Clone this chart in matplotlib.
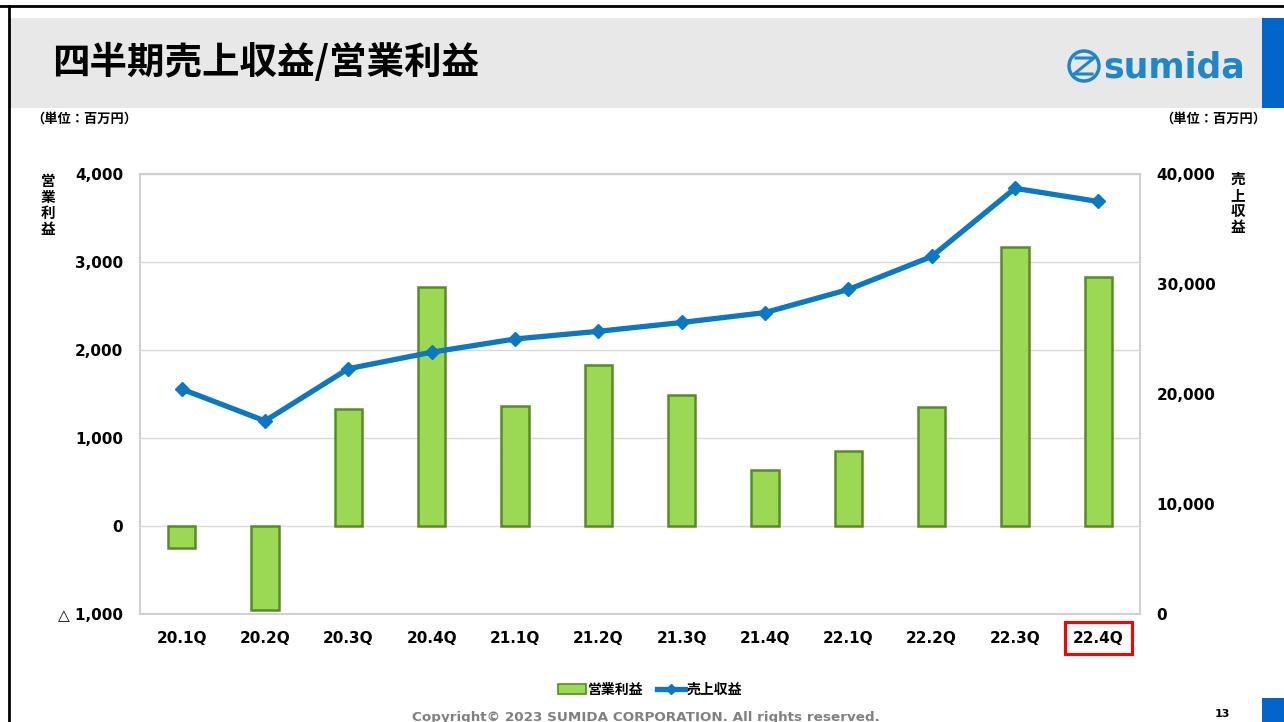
import numpy as np
import matplotlib.pyplot as plt
from matplotlib.patches import Rectangle, Circle
from matplotlib.lines import Line2D
from matplotlib.ticker import FuncFormatter

plt.rcParams["font.family"] = ["DejaVu Sans", "Noto Sans CJK JP"]

quarters = ["20.1Q", "20.2Q", "20.3Q", "20.4Q", "21.1Q", "21.2Q",
            "21.3Q", "21.4Q", "22.1Q", "22.2Q", "22.3Q", "22.4Q"]
op_profit = [-250, -960, 1330, 2720, 1360, 1825, 1485, 635, 850, 1350, 3165, 2835]
revenue = [20450, 17550, 22300, 23800, 25000, 25700, 26500, 27400, 29500, 32500, 38700, 37500]

left_ticks = [-1000, 0, 1000, 2000, 3000, 4000]
right_ticks = [0, 10000, 20000, 30000, 40000]

GREEN, GREEN_EDGE = "#9bd854", "#5a8a28"
BLUE = "#0a78c2"
JP = ["Noto Sans CJK JP", "DejaVu Sans"]

fig = plt.figure(figsize=(12.84, 7.22), dpi=100)
W, H = 1284, 722

def px(x, y):
    return x / W, 1 - y / H

# header band and page frame
fig.add_artist(Rectangle(px(10, 108), 1252 / W, 90 / H, transform=fig.transFigure,
                         facecolor="#e8e8e8", edgecolor="none"))
fig.add_artist(Rectangle(px(1262, 108), 22 / W, 90 / H, transform=fig.transFigure,
                         facecolor="#0066cc", edgecolor="none"))
fig.add_artist(Rectangle(px(1262, 722), 22 / W, 24 / H, transform=fig.transFigure,
                         facecolor="#0066cc", edgecolor="none"))
fig.add_artist(Line2D([0, 1], [1 - 6 / H] * 2, transform=fig.transFigure, color="black", lw=2))
fig.add_artist(Line2D([9 / W] * 2, [0, 1 - 6 / H], transform=fig.transFigure, color="black", lw=2))

fig.text(*px(52, 62), "四半期売上収益/営業利益", family=JP, fontsize=27, fontweight="bold",
         ha="left", va="center")

# logo
LOGO = "#1f86c8"
fig.add_artist(Circle((1084, H - 66), 15, transform=None, facecolor="none",
                      edgecolor=LOGO, lw=2.5))
fig.add_artist(Line2D([1076, 1094, 1074, 1092], [H - 58, H - 58, H - 74, H - 74],
                      transform=None, color=LOGO, lw=2.2))
fig.text(*px(1103, 68), "sumida", fontsize=25, fontweight="bold", color=LOGO,
         ha="left", va="center")

fig.text(*px(31, 119), "（単位：百万円）", family=JP, fontsize=9.5, fontweight="bold",
         ha="left", va="center")
fig.text(*px(1266, 119), "（単位：百万円）", family=JP, fontsize=9.5, fontweight="bold",
         ha="right", va="center")
fig.text(*px(48, 205), "営\n業\n利\n益", family=JP, fontsize=10.5, fontweight="bold",
         ha="center", va="center", linespacing=1.0)
fig.text(*px(1238, 203), "売\n上\n収\n益", family=JP, fontsize=10.5, fontweight="bold",
         ha="center", va="center", linespacing=1.0)

# main chart
ax = fig.add_axes([140 / W, 1 - 614 / H, 1000 / W, 440 / H])
x = np.arange(len(quarters))
ax.bar(x, op_profit, width=0.33, color=GREEN, edgecolor=GREEN_EDGE, linewidth=1.8, zorder=2)
ax.set_xlim(-0.5, len(quarters) - 0.5)
ax.set_ylim(-1000, 4000)
ax.set_yticks(left_ticks)
ax.yaxis.set_major_formatter(FuncFormatter(
    lambda v, p: f"△ {abs(v):,.0f}" if v < 0 else f"{v:,.0f}"))
ax.grid(axis="y", color="#d9d9d9", linewidth=1, zorder=0)
ax.set_xticks(x)
ax.set_xticklabels(quarters, fontsize=11, fontweight="bold")
for lbl in ax.get_yticklabels():
    lbl.set_fontsize(11)
    lbl.set_fontweight("bold")
ax.tick_params(axis="both", length=0)
ax.tick_params(axis="y", pad=12)
ax.tick_params(axis="x", pad=12)
for s in ax.spines.values():
    s.set_color("#d0d0d0")
    s.set_linewidth(1.5)

last = ax.get_xticklabels()[-1]
last.set_bbox(dict(facecolor="none", edgecolor="#ff0000", linewidth=2.2,
                   boxstyle="square,pad=0.55"))

ax2 = ax.twinx()
ax2.plot(x, revenue, color=BLUE, linewidth=3.8, marker="D", markersize=7, zorder=3)
ax2.set_ylim(0, 40000)
ax2.set_yticks(right_ticks)
ax2.yaxis.set_major_formatter(FuncFormatter(lambda v, p: f"{v:,.0f}"))
ax2.tick_params(axis="y", length=0, pad=12, labelsize=11)
for l in ax2.get_yticklabels():
    l.set_fontweight("bold")
for s in ax2.spines.values():
    s.set_visible(False)

# legend
handles = [Rectangle((0, 0), 1, 1, facecolor=GREEN, edgecolor=GREEN_EDGE, linewidth=1.2),
           Line2D([], [], color=BLUE, linewidth=3.8, marker="D", markersize=5)]
fig.legend(handles, ["営業利益", "売上収益"], loc="center", bbox_to_anchor=px(650, 690),
           ncol=2, frameon=False, prop={"family": JP, "weight": "bold", "size": 10},
           handlelength=2.0, handletextpad=0.1, columnspacing=1.0)

fig.text(*px(646, 717), "Copyright© 2023 SUMIDA CORPORATION. All rights reserved.",
         fontsize=9.7, fontweight="bold", color="#808080", ha="center", va="center")
fig.text(*px(1222, 714), "13", fontsize=8, fontweight="bold", ha="center", va="center")

fig.savefig("out.png", dpi=100, facecolor="white")
